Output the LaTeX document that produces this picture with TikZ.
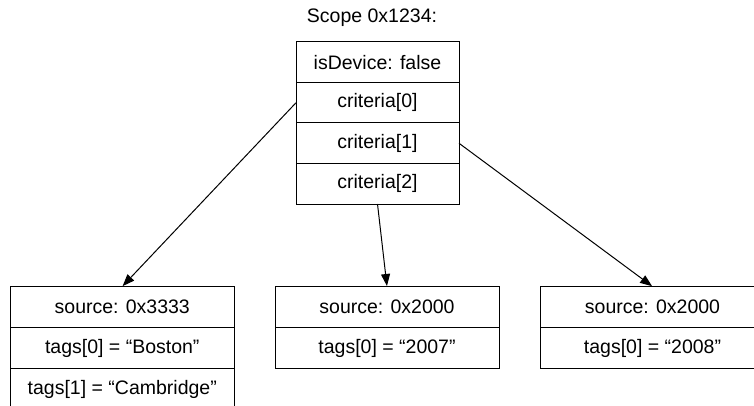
\documentclass[tikz,border=0pt]{standalone}
\usepackage{fontspec}
\setmainfont{Liberation Sans}
\usetikzlibrary{arrows.meta}
\begin{document}
\begin{tikzpicture}[x=1pt,y=-1pt,
  cell/.style={draw=black, line width=1pt, inner sep=0pt, outer sep=0pt,
    font=\fontsize{19.5}{23}\selectfont, anchor=center},
  topcell/.style={cell, minimum width=163pt, minimum height=40.5pt},
  botcell/.style={cell, minimum width=224pt, minimum height=41pt},
  link/.style={draw=black, line width=1pt, -{Triangle[length=12pt,width=9pt]}, shorten >=0.5pt}
]
\useasboundingbox (0,0) rectangle (754,406);
\clip (0,0) rectangle (754,406);
\fill[white] (0,0) rectangle (754,406);
\node[font=\fontsize{19.5}{23}\selectfont] (title) at (372,18) {Scope 0x1234:};
% top box
\node[topcell] (dev) at (377.5,62.25) {isDevice: false};
\node[topcell] (c0) at (377.5,102.75) {criteria[0]};
\node[topcell] (c1) at (377.5,143.25) {criteria[1]};
\node[topcell] (c2) at (377.5,183.75) {criteria[2]};
% left box
\node[botcell, minimum width=223.5pt] (s1) at (122.25,307) {source: 0x3333};
\node[botcell, minimum width=223.5pt] (t10) at (122.25,348) {tags[0] = “Boston”};
\node[botcell, minimum width=223.5pt] (t11) at (122.25,389) {tags[1] = “Cambridge”};
% middle box
\node[botcell] (s2) at (387,307) {source: 0x2000};
\node[botcell] (t20) at (387,348) {tags[0] = “2007”};
% right box
\node[botcell] (s3) at (652.5,307) {source: 0x2000};
\node[botcell] (t30) at (652.5,348) {tags[0] = “2008”};
% connectors
\draw[link] (c0.west) -- (s1.north);
\draw[link] (c2.south) -- (s2.north);
\draw[link] (c1.east) -- (s3.north);
\end{tikzpicture}
\end{document}
